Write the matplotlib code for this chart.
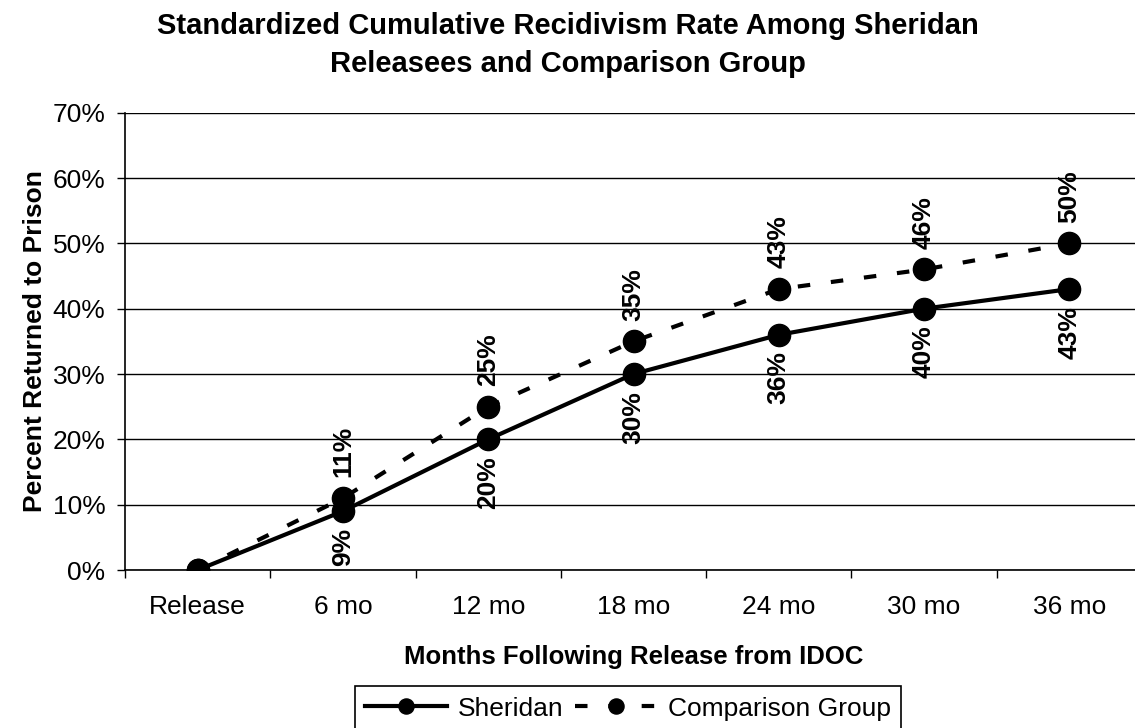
import matplotlib
matplotlib.use('Agg')
import matplotlib.pyplot as plt
import numpy as np

months = ['Release', '6 mo', '12 mo', '18 mo', '24 mo', '30 mo', '36 mo']
sheridan = [0, 9, 20, 30, 36, 40, 43]
comparison = [0, 11, 25, 35, 43, 46, 50]
series_names = ['Sheridan', 'Comparison Group']
y_ticks = [0, 10, 20, 30, 40, 50, 60, 70]

plt.rcParams['font.family'] = ['Liberation Sans', 'DejaVu Sans']

W, H = 1135, 728
fig = plt.figure(figsize=(W / 100, H / 100), dpi=100)
# plot area runs a little past the right edge of the picture, like the original
ax = fig.add_axes([125 / W, (H - 570) / H, 1017 / W, 457.3 / H])

x = np.arange(len(months))
ax.plot(x, sheridan, color='black', lw=3, marker='o', ms=16, label=series_names[0], zorder=3)
ax.plot(x, comparison, color='black', lw=3, ls=(0, (3, 5)), marker='o', ms=16,
        label=series_names[1], zorder=3)

# data labels, rotated, skip the Release point
for i in range(1, len(months)):
    ax.annotate(f'{sheridan[i]}%', (x[i], sheridan[i]), xytext=(0, -12),
                textcoords='offset points', rotation=90, ha='center', va='top',
                fontsize=19, fontweight='bold', zorder=4)
    ax.annotate(f'{comparison[i]}%', (x[i], comparison[i]), xytext=(0, 15),
                textcoords='offset points', rotation=90, ha='center', va='bottom',
                fontsize=19, fontweight='bold', zorder=4)

ax.set_xlim(-0.5, len(months) - 0.5)
ax.set_ylim(0, 70)
ax.set_yticks(y_ticks)
ax.set_yticklabels([f'{v}%' for v in y_ticks])
ax.yaxis.grid(True, color='black', lw=1)
ax.set_axisbelow(True)

# tick marks between categories, labels at category centres
ax.set_xticks(np.arange(-0.5, len(months), 1))
ax.set_xticklabels([])
ax.set_xticks(x, minor=True)
ax.set_xticklabels(months, minor=True)
ax.tick_params(axis='x', which='major', length=6, width=1, direction='out')
ax.tick_params(axis='x', which='minor', length=0, pad=18, labelsize=19)
ax.tick_params(axis='y', length=6, width=1, direction='out', pad=8, labelsize=19)

for s in ['top', 'right']:
    ax.spines[s].set_visible(False)
ax.spines['left'].set_linewidth(1.2)
ax.spines['bottom'].set_linewidth(1.2)

ax.set_xlabel('Months Following Release from IDOC', fontsize=18.5, fontweight='bold')
ax.xaxis.set_label_coords(0.5, -(645 - 570) / 457.3)
ax.set_ylabel('Percent Returned to Prison', fontsize=19, fontweight='bold')
ax.yaxis.set_label_coords(-(125 - 47.5) / 1017, 0.5)

fig.text(0.5, 1 - 12 / H,
         'Standardized Cumulative Recidivism Rate Among Sheridan\nReleasees and Comparison Group',
         ha='center', va='top', fontsize=21, fontweight='bold', linespacing=1.45)

handles, labels = ax.get_legend_handles_labels()
leg = fig.legend(handles, labels, loc='upper center', bbox_to_anchor=(628 / W, 1 - 686 / H),
                 ncol=2, fontsize=19, frameon=True, fancybox=False, edgecolor='black',
                 framealpha=1, handlelength=3.1, handletextpad=0.4, columnspacing=0.45,
                 borderpad=0.4, markerscale=0.68, borderaxespad=0)
leg.get_frame().set_linewidth(1.2)

fig.savefig('out.png', dpi=100)
